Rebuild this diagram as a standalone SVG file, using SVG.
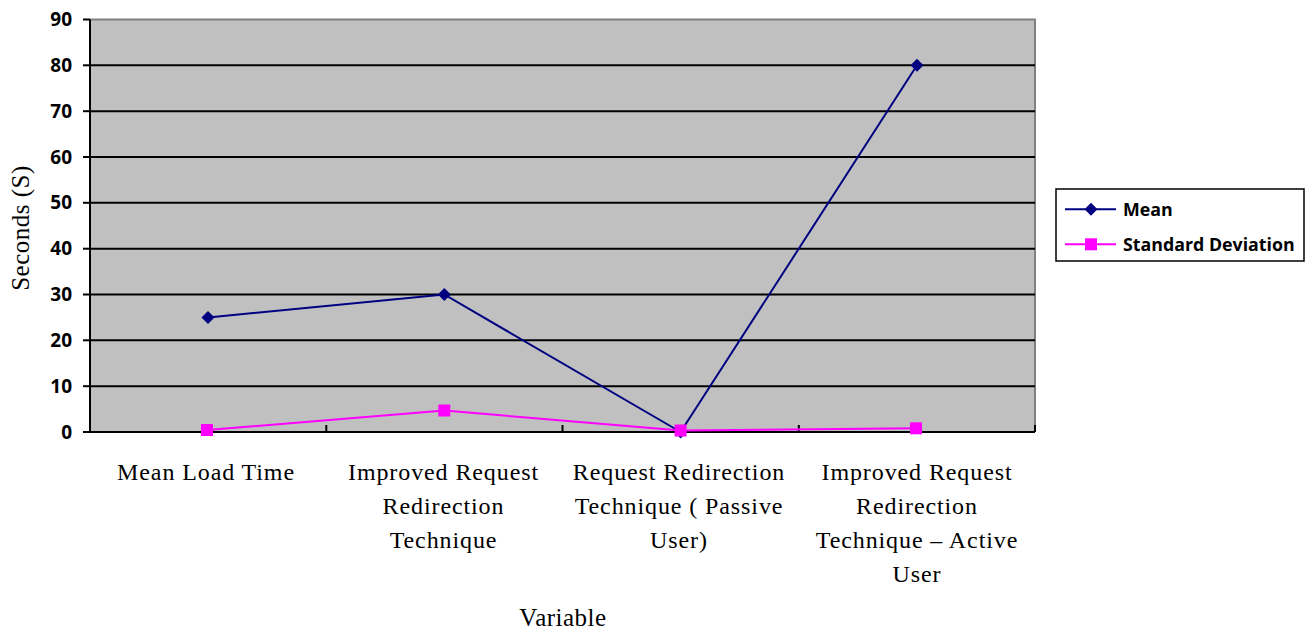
<svg xmlns="http://www.w3.org/2000/svg" width="1314" height="632" viewBox="0 0 1314 632">
<style>
.tick{font-family:"Open Sans","Liberation Sans",sans-serif;font-weight:bold;font-size:19px;fill:#000;text-anchor:end}
.cat{font-family:"Liberation Serif",serif;font-size:24px;letter-spacing:0.9px;fill:#000;text-anchor:middle}
.ttl{font-family:"Liberation Serif",serif;font-size:25px;letter-spacing:0.5px;fill:#000;text-anchor:middle}
.leg{font-family:"Open Sans","Liberation Sans",sans-serif;font-weight:bold;font-size:17.8px;fill:#000}
.grid{stroke:#000;stroke-width:2}
.axis{stroke:#000;stroke-width:2;fill:none}
.mean{stroke:#000080;stroke-width:2;fill:none}
.sd{stroke:#FF00FF;stroke-width:2;fill:none}
</style>
<defs>
<path id="dia" d="M0,-6.5 L6.5,0 L0,6.5 L-6.5,0 Z" fill="#000080"/>
<rect id="sq" x="-6" y="-6" width="12" height="12" fill="#FF00FF"/>
</defs>
<rect width="1314" height="632" fill="#fff"/>
<g id="plot">
<rect x="90" y="19.5" width="945" height="412.5" fill="#C0C0C0"/>
<path d="M90,19.5 H1035 V432" stroke="#808080" stroke-width="2" fill="none"/>
<g class="grid">
<line x1="90" y1="386.2" x2="1035" y2="386.2"/>
<line x1="90" y1="340.3" x2="1035" y2="340.3"/>
<line x1="90" y1="294.5" x2="1035" y2="294.5"/>
<line x1="90" y1="248.7" x2="1035" y2="248.7"/>
<line x1="90" y1="202.8" x2="1035" y2="202.8"/>
<line x1="90" y1="157" x2="1035" y2="157"/>
<line x1="90" y1="111.2" x2="1035" y2="111.2"/>
<line x1="90" y1="65.3" x2="1035" y2="65.3"/>
</g>
<path class="axis" d="M90,19.5 V432 H1035"/>
<g class="axis">
<line x1="83" y1="19.5" x2="90" y2="19.5"/>
<line x1="83" y1="65.3" x2="90" y2="65.3"/>
<line x1="83" y1="111.2" x2="90" y2="111.2"/>
<line x1="83" y1="157" x2="90" y2="157"/>
<line x1="83" y1="202.8" x2="90" y2="202.8"/>
<line x1="83" y1="248.7" x2="90" y2="248.7"/>
<line x1="83" y1="294.5" x2="90" y2="294.5"/>
<line x1="83" y1="340.3" x2="90" y2="340.3"/>
<line x1="83" y1="386.2" x2="90" y2="386.2"/>
<line x1="83" y1="432" x2="90" y2="432"/>
<line x1="326.3" y1="425" x2="326.3" y2="432"/>
<line x1="562.5" y1="425" x2="562.5" y2="432"/>
<line x1="798.8" y1="425" x2="798.8" y2="432"/>
<line x1="1035" y1="425" x2="1035" y2="432"/>
</g>
</g>
<g id="y-labels">
<text class="tick" x="72" y="26">90</text>
<text class="tick" x="72" y="71.8">80</text>
<text class="tick" x="72" y="117.7">70</text>
<text class="tick" x="72" y="163.5">60</text>
<text class="tick" x="72" y="209.3">50</text>
<text class="tick" x="72" y="255.2">40</text>
<text class="tick" x="72" y="301">30</text>
<text class="tick" x="72" y="346.8">20</text>
<text class="tick" x="72" y="392.7">10</text>
<text class="tick" x="72" y="438.5">0</text>
</g>
<g id="connectors">
<polyline class="mean" points="208,317.4 444.3,294.5 680.6,432 917,65.3"/>
<polyline class="sd" points="207,430 444.3,410.5 680.6,430.5 916,428.3"/>
</g>
<g id="mean-markers">
<use href="#dia" x="208" y="317.4"/>
<use href="#dia" x="444.3" y="294.5"/>
<use href="#dia" x="680.6" y="432"/>
<use href="#dia" x="917" y="65.3"/>
</g>
<g id="sd-markers">
<use href="#sq" x="207" y="430"/>
<use href="#sq" x="444.3" y="410.5"/>
<use href="#sq" x="680.6" y="430.5"/>
<use href="#sq" x="916" y="428.3"/>
</g>
<g id="categories">
<text class="cat" x="206" y="480">Mean Load Time</text>
<text class="cat" x="443.5" y="480">Improved Request</text>
<text class="cat" x="443.5" y="514">Redirection</text>
<text class="cat" x="443.5" y="548">Technique</text>
<text class="cat" x="679" y="480">Request Redirection</text>
<text class="cat" x="679" y="514">Technique ( Passive</text>
<text class="cat" x="679" y="548">User)</text>
<text class="cat" x="917" y="480">Improved Request</text>
<text class="cat" x="917" y="514">Redirection</text>
<text class="cat" x="917" y="548">Technique – Active</text>
<text class="cat" x="917" y="582">User</text>
</g>
<g id="titles">
<text class="ttl" x="563" y="626">Variable</text>
<text class="ttl" transform="translate(29,228) rotate(-90)">Seconds (S)</text>
</g>
<g id="legend">
<rect x="1056" y="189" width="248" height="72" fill="#fff" stroke="#000" stroke-width="1.5"/>
<line class="mean" x1="1065" y1="209.3" x2="1116" y2="209.3"/>
<use href="#dia" x="1091" y="209.3"/>
<text class="leg" x="1123" y="215.5">Mean</text>
<line class="sd" x1="1065" y1="244.3" x2="1116" y2="244.3"/>
<use href="#sq" x="1091" y="244.3"/>
<text class="leg" x="1123" y="250.5">Standard Deviation</text>
</g>
</svg>
